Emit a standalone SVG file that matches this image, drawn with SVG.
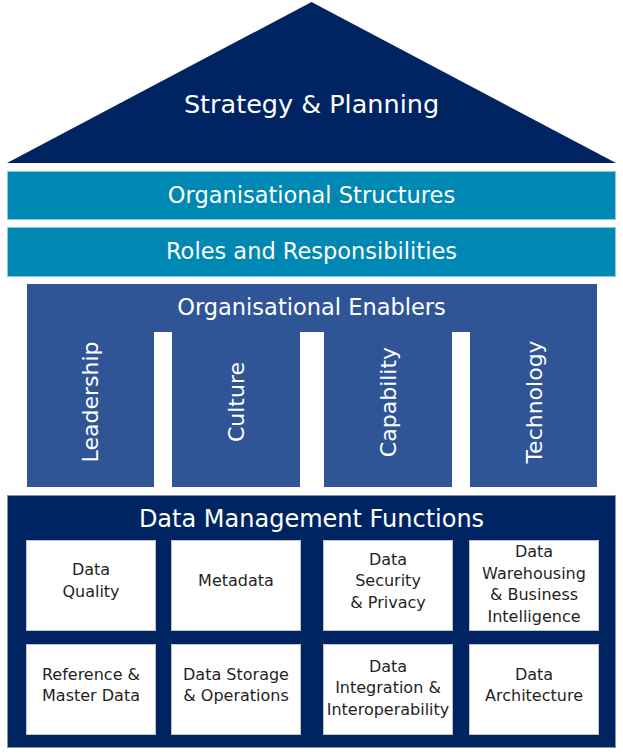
<svg xmlns="http://www.w3.org/2000/svg" width="623" height="756" viewBox="0 0 623 756">
<style>
  text { font-family: "DejaVu Sans", "Liberation Sans", sans-serif; }
  .wt { fill: #ffffff; text-anchor: middle; }
  .bt { fill: #1f1f1f; text-anchor: middle; font-size: 16px; }
  .roof { fill: #002462; }
  .band { fill: #0088B4; stroke: #8fcbe0; stroke-width: 1; }
  .enab { fill: #2F5597; }
  .base { fill: #002462; stroke: #8894b4; stroke-width: 1; }
  .box { fill: #ffffff; stroke: #c4c4c4; stroke-width: 1; }
</style>
<rect x="0" y="0" width="623" height="756" fill="#ffffff"/>
<g id="strategy">
  <polygon class="roof" points="7,163 311.5,2 616,163"/>
  <text class="wt" x="311.5" y="113" font-size="25.5">Strategy &amp; Planning</text>
</g>
<g id="org-structures">
  <rect class="band" x="7.5" y="171.5" width="608" height="48"/>
  <text class="wt" x="311.5" y="203" font-size="22.5">Organisational Structures</text>
</g>
<g id="roles">
  <rect class="band" x="7.5" y="227.5" width="608" height="49"/>
  <text class="wt" x="311.5" y="259" font-size="22.5">Roles and Responsibilities</text>
</g>
<g id="enablers">
  <rect class="enab" x="27" y="284" width="570" height="48"/>
  <text class="wt" x="311.5" y="315" font-size="22.5">Organisational Enablers</text>
</g>
<g id="leadership">
  <rect class="enab" x="27" y="331" width="127" height="156"/>
  <text class="wt" font-size="22" transform="translate(98,402) rotate(-90)">Leadership</text>
</g>
<g id="culture">
  <rect class="enab" x="172" y="331" width="128" height="156"/>
  <text class="wt" font-size="22" transform="translate(244,402) rotate(-90)">Culture</text>
</g>
<g id="capability">
  <rect class="enab" x="324" y="331" width="128" height="156"/>
  <text class="wt" font-size="22" transform="translate(396,402) rotate(-90)">Capability</text>
</g>
<g id="technology">
  <rect class="enab" x="470" y="331" width="127" height="156"/>
  <text class="wt" font-size="22" transform="translate(542,402) rotate(-90)">Technology</text>
</g>
<g id="dm-functions">
  <rect class="base" x="7.5" y="495.5" width="608" height="252"/>
  <text class="wt" x="311.5" y="527" font-size="24">Data Management Functions</text>
</g>
<g id="data-quality">
  <rect class="box" x="26.5" y="540.5" width="129" height="90"/>
  <text class="bt" x="91" y="575">Data</text>
  <text class="bt" x="91" y="597">Quality</text>
</g>
<g id="metadata">
  <rect class="box" x="171.5" y="540.5" width="129" height="90"/>
  <text class="bt" x="236" y="586">Metadata</text>
</g>
<g id="security">
  <rect class="box" x="323.5" y="540.5" width="129" height="90"/>
  <text class="bt" x="388" y="565">Data</text>
  <text class="bt" x="388" y="586">Security</text>
  <text class="bt" x="388" y="608">&amp; Privacy</text>
</g>
<g id="warehousing">
  <rect class="box" x="469.5" y="540.5" width="129" height="90"/>
  <text class="bt" x="534" y="557">Data</text>
  <text class="bt" x="534" y="579">Warehousing</text>
  <text class="bt" x="534" y="600">&amp; Business</text>
  <text class="bt" x="534" y="622">Intelligence</text>
</g>
<g id="reference">
  <rect class="box" x="26.5" y="644.5" width="129" height="90"/>
  <text class="bt" x="91" y="680">Reference &amp;</text>
  <text class="bt" x="91" y="701">Master Data</text>
</g>
<g id="storage">
  <rect class="box" x="171.5" y="644.5" width="129" height="90"/>
  <text class="bt" x="236" y="680">Data Storage</text>
  <text class="bt" x="236" y="701">&amp; Operations</text>
</g>
<g id="integration">
  <rect class="box" x="323.5" y="644.5" width="129" height="90"/>
  <text class="bt" x="388" y="672">Data</text>
  <text class="bt" x="388" y="693">Integration &amp;</text>
  <text class="bt" x="388" y="715">Interoperability</text>
</g>
<g id="architecture">
  <rect class="box" x="469.5" y="644.5" width="129" height="90"/>
  <text class="bt" x="534" y="680">Data</text>
  <text class="bt" x="534" y="701">Architecture</text>
</g>
<g id="connectors"></g>
</svg>
